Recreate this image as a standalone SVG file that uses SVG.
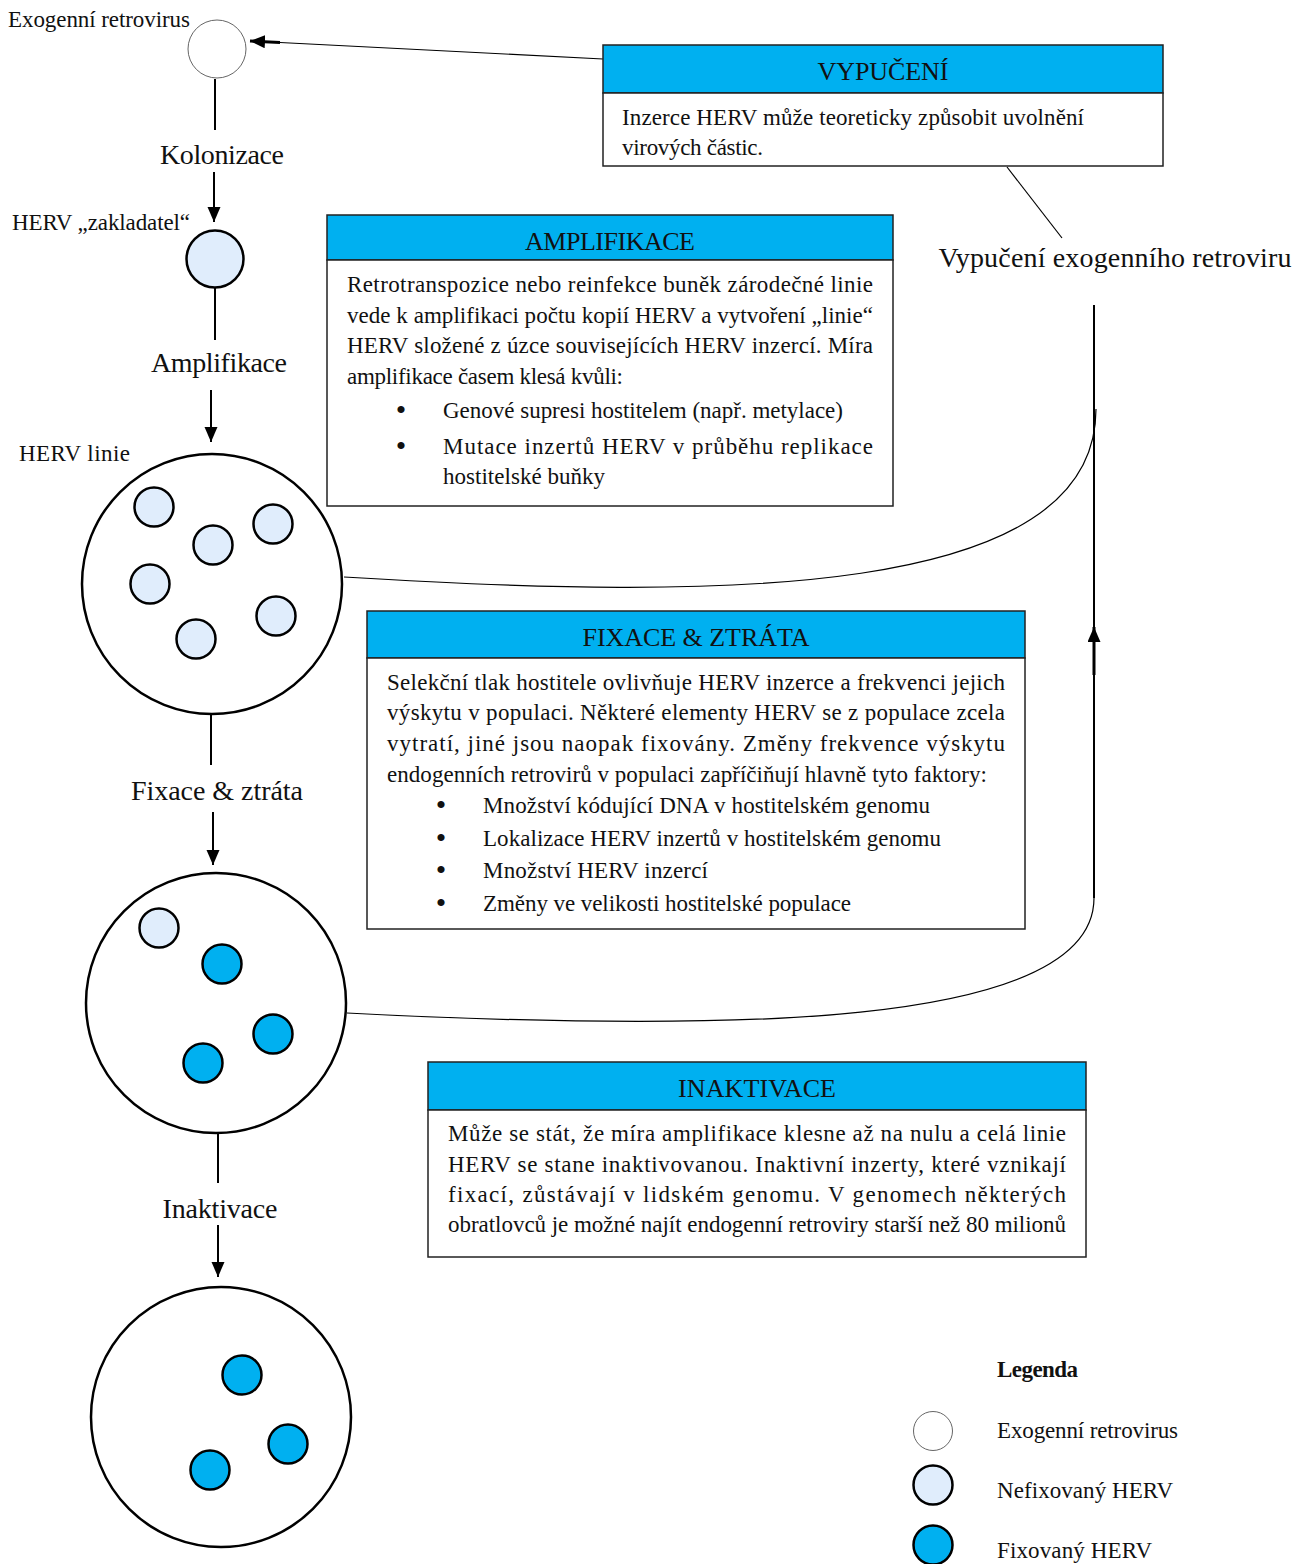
<svg xmlns="http://www.w3.org/2000/svg" width="1306" height="1564" viewBox="0 0 1306 1564">
<style>
text{font-family:"Liberation Serif","Times New Roman",serif;fill:#111}
.lbl{font-size:23px}
.stage{font-size:28px;text-anchor:middle}
.title{font-size:26px;text-anchor:middle}
.body{font-size:23px}
.bul{font-size:30px;text-anchor:middle}
.hdr{fill:#00B0F0;stroke:#222;stroke-width:1.5}
.box{fill:#fff;stroke:#222;stroke-width:1.5}
.big{fill:#fff;stroke:#000;stroke-width:2.5}
.unf{fill:#E0EDFC;stroke:#000;stroke-width:2.5}
.fix{fill:#00B0F0;stroke:#000;stroke-width:2.5}
.exo{fill:#fff;stroke:#666;stroke-width:1}
.ln{stroke:#000;stroke-width:2;fill:none}
.thin{stroke:#000;stroke-width:1.2;fill:none}
</style>
<defs>
<marker id="ah" markerUnits="userSpaceOnUse" markerWidth="16" markerHeight="14" refX="15" refY="6.5" orient="auto">
<path d="M0,0 L15,6.5 L0,13 z" fill="#000"/>
</marker>
</defs>

<g id="connectors">
<line class="ln" x1="215" y1="79" x2="215" y2="130"/>
<line class="ln" x1="214" y1="172" x2="214" y2="222" marker-end="url(#ah)"/>
<line class="ln" x1="215" y1="288" x2="215" y2="340"/>
<line class="ln" x1="211" y1="390" x2="211" y2="442" marker-end="url(#ah)"/>
<line class="ln" x1="211" y1="714" x2="211" y2="765"/>
<line class="ln" x1="213" y1="812" x2="213" y2="865" marker-end="url(#ah)"/>
<line class="ln" x1="218" y1="1133" x2="218" y2="1183"/>
<line class="ln" x1="218" y1="1225" x2="218" y2="1277" marker-end="url(#ah)"/>
<line class="thin" x1="603" y1="59" x2="280" y2="42.5"/>
<line stroke="#000" stroke-width="3" x1="280" y1="42.5" x2="250" y2="41" marker-end="url(#ah)"/>
<line class="thin" x1="1007" y1="167" x2="1062" y2="238"/>
<line class="ln" x1="1094" y1="305" x2="1094" y2="898"/>
<line stroke="#000" stroke-width="3" x1="1094" y1="675" x2="1094" y2="627" marker-end="url(#ah)"/>
<path class="thin" d="M344,577 C720,600 1096,600 1096,409"/>
<path class="thin" d="M347,1013 C720,1032 1094,1030 1094,898"/>
</g>

<g id="exogenni">
<circle class="exo" cx="217" cy="49" r="29"/>
<text class="lbl" x="8" y="27" textLength="182">Exogenní retrovirus</text>
</g>
<g id="kolonizace"><text class="stage" x="222" y="164" textLength="124">Kolonizace</text></g>
<g id="zakladatel">
<circle class="unf" cx="215" cy="259" r="28.5"/>
<text class="lbl" x="12" y="230" textLength="178">HERV „zakladatel“</text>
</g>
<g id="amplifikace-label"><text class="stage" x="219" y="372" textLength="136">Amplifikace</text></g>
<g id="linie">
<text class="lbl" x="19" y="461" textLength="111">HERV linie</text>
<circle class="big" cx="212" cy="584" r="130"/>
<circle class="unf" cx="154" cy="507" r="19.5"/>
<circle class="unf" cx="213" cy="545" r="19.5"/>
<circle class="unf" cx="273" cy="524" r="19.5"/>
<circle class="unf" cx="150" cy="584" r="19.5"/>
<circle class="unf" cx="276" cy="616" r="19.5"/>
<circle class="unf" cx="196" cy="639" r="19.5"/>
</g>
<g id="fixace-label"><text class="stage" x="217" y="800" textLength="172">Fixace &amp; ztráta</text></g>
<g id="fixovana">
<circle class="big" cx="216" cy="1003" r="130"/>
<circle class="unf" cx="159" cy="928" r="19.5"/>
<circle class="fix" cx="222" cy="964" r="19.5"/>
<circle class="fix" cx="273" cy="1034" r="19.5"/>
<circle class="fix" cx="203" cy="1063" r="19.5"/>
</g>
<g id="inaktivace-label"><text class="stage" x="220" y="1218" textLength="115">Inaktivace</text></g>
<g id="inaktivni">
<circle class="big" cx="221" cy="1417" r="130"/>
<circle class="fix" cx="242" cy="1375" r="19.5"/>
<circle class="fix" cx="288" cy="1444" r="19.5"/>
<circle class="fix" cx="210" cy="1470" r="19.5"/>
</g>

<g id="vypuceni-box">
<rect class="hdr" x="603" y="45" width="560" height="48"/>
<rect class="box" x="603" y="93" width="560" height="73"/>
<text class="title" x="883" y="80" textLength="131">VYPUČENÍ</text>
<text class="body" x="622" y="125" textLength="462">Inzerce HERV může teoreticky způsobit uvolnění</text>
<text class="body" x="622" y="155" textLength="141">virových částic.</text>
</g>
<g id="vypuceni-label"><text class="stage" x="1115" y="267" textLength="353">Vypučení exogenního retroviru</text></g>

<g id="amplifikace-box">
<rect class="hdr" x="327" y="215" width="566" height="45"/>
<rect class="box" x="327" y="260" width="566" height="246"/>
<text class="title" x="610" y="250" textLength="170">AMPLIFIKACE</text>
<text class="body" x="347" y="292" textLength="526">Retrotranspozice nebo reinfekce buněk zárodečné linie</text>
<text class="body" x="347" y="323" textLength="526">vede k amplifikaci počtu kopií HERV a vytvoření „linie“</text>
<text class="body" x="347" y="353" textLength="526">HERV složené z úzce souvisejících HERV inzercí. Míra</text>
<text class="body" x="347" y="384" textLength="276">amplifikace časem klesá kvůli:</text>
<text class="bul" x="401" y="420">•</text>
<text class="body" x="443" y="418" textLength="400">Genové supresi hostitelem (např. metylace)</text>
<text class="bul" x="401" y="456">•</text>
<text class="body" x="443" y="454" textLength="430">Mutace inzertů HERV v průběhu replikace</text>
<text class="body" x="443" y="484" textLength="162">hostitelské buňky</text>
</g>

<g id="fixace-box">
<rect class="hdr" x="367" y="611" width="658" height="47"/>
<rect class="box" x="367" y="658" width="658" height="271"/>
<text class="title" x="696" y="646" textLength="227">FIXACE &amp; ZTRÁTA</text>
<text class="body" x="387" y="690" textLength="618">Selekční tlak hostitele ovlivňuje HERV inzerce a frekvenci jejich</text>
<text class="body" x="387" y="720" textLength="618">výskytu v populaci. Některé elementy HERV se z populace zcela</text>
<text class="body" x="387" y="751" textLength="618">vytratí, jiné jsou naopak fixovány. Změny frekvence výskytu</text>
<text class="body" x="387" y="782" textLength="600">endogenních retrovirů v populaci zapříčiňují hlavně tyto faktory:</text>
<text class="bul" x="441" y="815">•</text>
<text class="body" x="483" y="813" textLength="447">Množství kódující DNA v hostitelském genomu</text>
<text class="bul" x="441" y="848">•</text>
<text class="body" x="483" y="846" textLength="458">Lokalizace HERV inzertů v hostitelském genomu</text>
<text class="bul" x="441" y="880">•</text>
<text class="body" x="483" y="878" textLength="225">Množství HERV inzercí</text>
<text class="bul" x="441" y="913">•</text>
<text class="body" x="483" y="911" textLength="368">Změny ve velikosti hostitelské populace</text>
</g>

<g id="inaktivace-box">
<rect class="hdr" x="428" y="1062" width="658" height="48"/>
<rect class="box" x="428" y="1110" width="658" height="147"/>
<text class="title" x="757" y="1097" textLength="158">INAKTIVACE</text>
<text class="body" x="448" y="1141" textLength="618">Může se stát, že míra amplifikace klesne až na nulu a celá linie</text>
<text class="body" x="448" y="1172" textLength="618">HERV se stane inaktivovanou. Inaktivní inzerty, které vznikají</text>
<text class="body" x="448" y="1202" textLength="618">fixací, zůstávají v lidském genomu. V genomech některých</text>
<text class="body" x="448" y="1232" textLength="618">obratlovců je možné najít endogenní retroviry starší než 80 milionů</text>
</g>

<g id="legenda">
<text x="997" y="1377" style="font-size:23px;font-weight:bold" textLength="81">Legenda</text>
<circle class="exo" cx="933" cy="1431" r="19.5"/>
<text class="lbl" x="997" y="1438" textLength="181">Exogenní retrovirus</text>
<circle class="unf" cx="933" cy="1485" r="19.5"/>
<text class="lbl" x="997" y="1498" textLength="176">Nefixovaný HERV</text>
<circle class="fix" cx="933" cy="1545" r="19.5"/>
<text class="lbl" x="997" y="1558" textLength="155">Fixovaný HERV</text>
</g>
</svg>
